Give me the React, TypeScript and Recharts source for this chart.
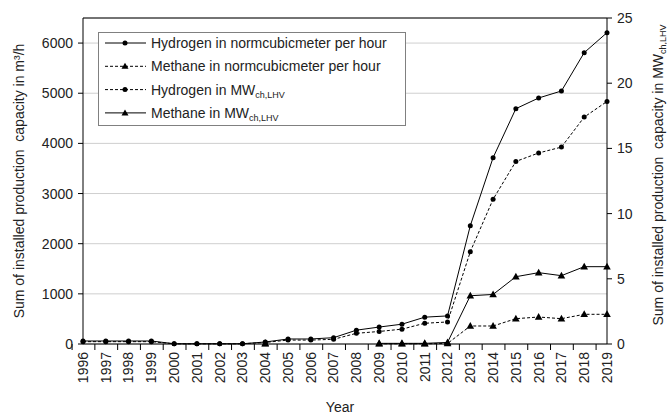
import React from 'react'
import { LineChart, Line, XAxis, YAxis, CartesianGrid, Legend, ReferenceLine } from 'recharts'

const years = [
  '1996', '1997', '1998', '1999', '2000', '2001', '2002', '2003', '2004', '2005', '2006', '2007',
  '2008', '2009', '2010', '2011', '2012', '2013', '2014', '2015', '2016', '2017', '2018', '2019',
]

// left axis, m³/h
const hydrogenNm3 = [60, 60, 60, 60, 5, 5, 5, 5, 40, 100, 100, 126, 276, 338, 395, 535, 560, 2359, 3715, 4692, 4905, 5045, 5809, 6208]
const methaneNm3 = [null, null, null, null, null, null, null, null, 5, null, null, null, null, 5, 5, 5, 10, 359, 359, 505, 538, 505, 592, 592]

// right axis, MW ch,LHV
const hydrogenMW = [0.18, 0.18, 0.18, 0.18, 0.015, 0.015, 0.015, 0.015, 0.12, 0.3, 0.3, 0.36, 0.82, 0.96, 1.14, 1.59, 1.69, 7.08, 11.1, 14.0, 14.65, 15.1, 17.4, 18.6]
const methaneMW = [null, null, null, null, null, null, null, null, 0.05, null, null, null, null, 0.05, 0.05, 0.05, 0.12, 3.7, 3.8, 5.16, 5.47, 5.24, 5.93, 5.93]

const leftTicks = [0, 1000, 2000, 3000, 4000, 5000, 6000]
const rightTicks = [0, 5, 10, 15, 20, 25]

const data = years.map((year, i) => ({
  year,
  h2Nm3: hydrogenNm3[i],
  ch4Nm3: methaneNm3[i],
  h2MW: hydrogenMW[i],
  ch4MW: methaneMW[i],
}))

const font = '"Liberation Sans", Arial, sans-serif'
const halfBand = 524 / 24 / 2

const Triangle = (props: any) => {
  const { cx, cy, value } = props
  if (value == null || cx == null || cy == null) return null
  return <path d={`M${cx},${cy - 4}L${cx + 3.8},${cy + 2.8}L${cx - 3.8},${cy + 2.8}Z`} fill="#000" />
}

const YearTick = (props: any) => {
  const { x, y, payload } = props
  return (
    <g>
      <line x1={x - halfBand} y1={y - 8} x2={x - halfBand} y2={y - 2} stroke="#000" />
      <text x={x} y={y} transform={`rotate(-90 ${x} ${y})`} textAnchor="end" dy="0.35em"
        fontSize={14} fill="#222" fontFamily={font}>{payload.value}</text>
    </g>
  )
}

const LeftLabel = (props: any) => {
  const { viewBox } = props
  const x = viewBox.x + 19
  const y = viewBox.y + viewBox.height / 2
  return (
    <text x={x} y={y} transform={`rotate(-90 ${x} ${y})`} textAnchor="middle" dy="0.35em"
      fontSize={14} fill="#222" fontFamily={font} style={{ whiteSpace: 'pre' }}>
      {'Sum of installed production  capacity in m³/h'}
    </text>
  )
}

const RightLabel = (props: any) => {
  const { viewBox } = props
  const x = viewBox.x + 51
  const y = viewBox.y + viewBox.height / 2 - 6
  return (
    <text x={x} y={y} transform={`rotate(-90 ${x} ${y})`} textAnchor="middle" dy="0.35em"
      fontSize={14} fill="#222" fontFamily={font} style={{ whiteSpace: 'pre' }}>
      {'Sum of installed production  capacity in MW'}<tspan fontSize={9} dy={3}>ch,LHV</tspan>
    </text>
  )
}

const legendItems = [
  { label: 'Hydrogen in normcubicmeter per hour', sub: '', dash: '', marker: 'circle' },
  { label: 'Methane in normcubicmeter per hour', sub: '', dash: '3 2', marker: 'triangle' },
  { label: 'Hydrogen in MW', sub: 'ch,LHV', dash: '3 2', marker: 'circle' },
  { label: 'Methane in MW', sub: 'ch,LHV', dash: '', marker: 'triangle' },
]

const LegendBox = () => (
  <svg width={308} height={94} style={{ display: 'block' }}>
    <rect x={0.5} y={0.5} width={307} height={93} fill="#fff" stroke="#808080" />
    {legendItems.map((it, i) => {
      const y = 11 + i * 23.3
      return (
        <g key={it.label}>
          <line x1={7} y1={y} x2={48} y2={y} stroke="#000" strokeDasharray={it.dash} />
          {it.marker === 'circle'
            ? <circle cx={27} cy={y} r={2.5} fill="#000" />
            : <path d={`M27,${y - 3.5}L30.5,${y + 2.5}L23.5,${y + 2.5}Z`} fill="#000" />}
          <text x={53} y={y} dy="0.35em" fontSize={14} fill="#222" fontFamily={font}>
            {it.label}
            {it.sub ? <tspan fontSize={9} dy={3}>{it.sub}</tspan> : null}
          </text>
        </g>
      )
    })}
  </svg>
)

export default function App() {
  return (
    <div style={{ width: 667, height: 415, background: '#fff' }}>
      <style>{'body{margin:0}'}</style>
      <LineChart width={667} height={415} data={data} margin={{ top: 18, right: 0, left: 0, bottom: 0 }}>
        <CartesianGrid yAxisId="left" vertical={false} stroke="#cfcfcf" />
        <XAxis dataKey="year" interval={0} height={71} tickLine={false} tickSize={6} tickMargin={2}
          axisLine={{ stroke: '#000' }} tick={<YearTick />}
          label={{ value: 'Year', position: 'insideBottom', offset: 3, dx: -5, fontSize: 14, fill: '#222', fontFamily: font }} />
        <YAxis yAxisId="left" domain={[0, 6500]} ticks={leftTicks} width={83} tickSize={5} tickMargin={5}
          axisLine={{ stroke: '#000' }} tickLine={{ stroke: '#000' }}
          tick={{ fontSize: 14, fill: '#222', fontFamily: font }} label={(p: any) => <LeftLabel {...p} />} />
        <YAxis yAxisId="right" orientation="right" domain={[0, 25]} ticks={rightTicks} width={60} tickSize={5} tickMargin={5}
          axisLine={{ stroke: '#000' }} tickLine={{ stroke: '#000' }}
          tick={{ fontSize: 14, fill: '#222', fontFamily: font }} label={(p: any) => <RightLabel {...p} />} />
        <ReferenceLine yAxisId="left" y={6500} stroke="#000" />
        <Line yAxisId="left" dataKey="h2Nm3" stroke="#000" strokeWidth={1} isAnimationActive={false}
          dot={{ r: 2.5, fill: '#000', stroke: '#000', strokeWidth: 0 }} />
        <Line yAxisId="left" dataKey="ch4Nm3" stroke="#000" strokeWidth={1} strokeDasharray="3 2" isAnimationActive={false}
          dot={(p: any) => <Triangle key={p.index} {...p} />} />
        <Line yAxisId="right" dataKey="h2MW" stroke="#000" strokeWidth={1} strokeDasharray="3 2" isAnimationActive={false}
          dot={{ r: 2.5, fill: '#000', stroke: '#000', strokeWidth: 0 }} />
        <Line yAxisId="right" dataKey="ch4MW" stroke="#000" strokeWidth={1} isAnimationActive={false}
          dot={(p: any) => <Triangle key={p.index} {...p} />} />
        <Legend layout="vertical" align="center" verticalAlign="middle" content={<LegendBox />}
          wrapperStyle={{ position: 'absolute', left: 98, top: 32, width: 308, height: 94 }} />
      </LineChart>
    </div>
  )
}
